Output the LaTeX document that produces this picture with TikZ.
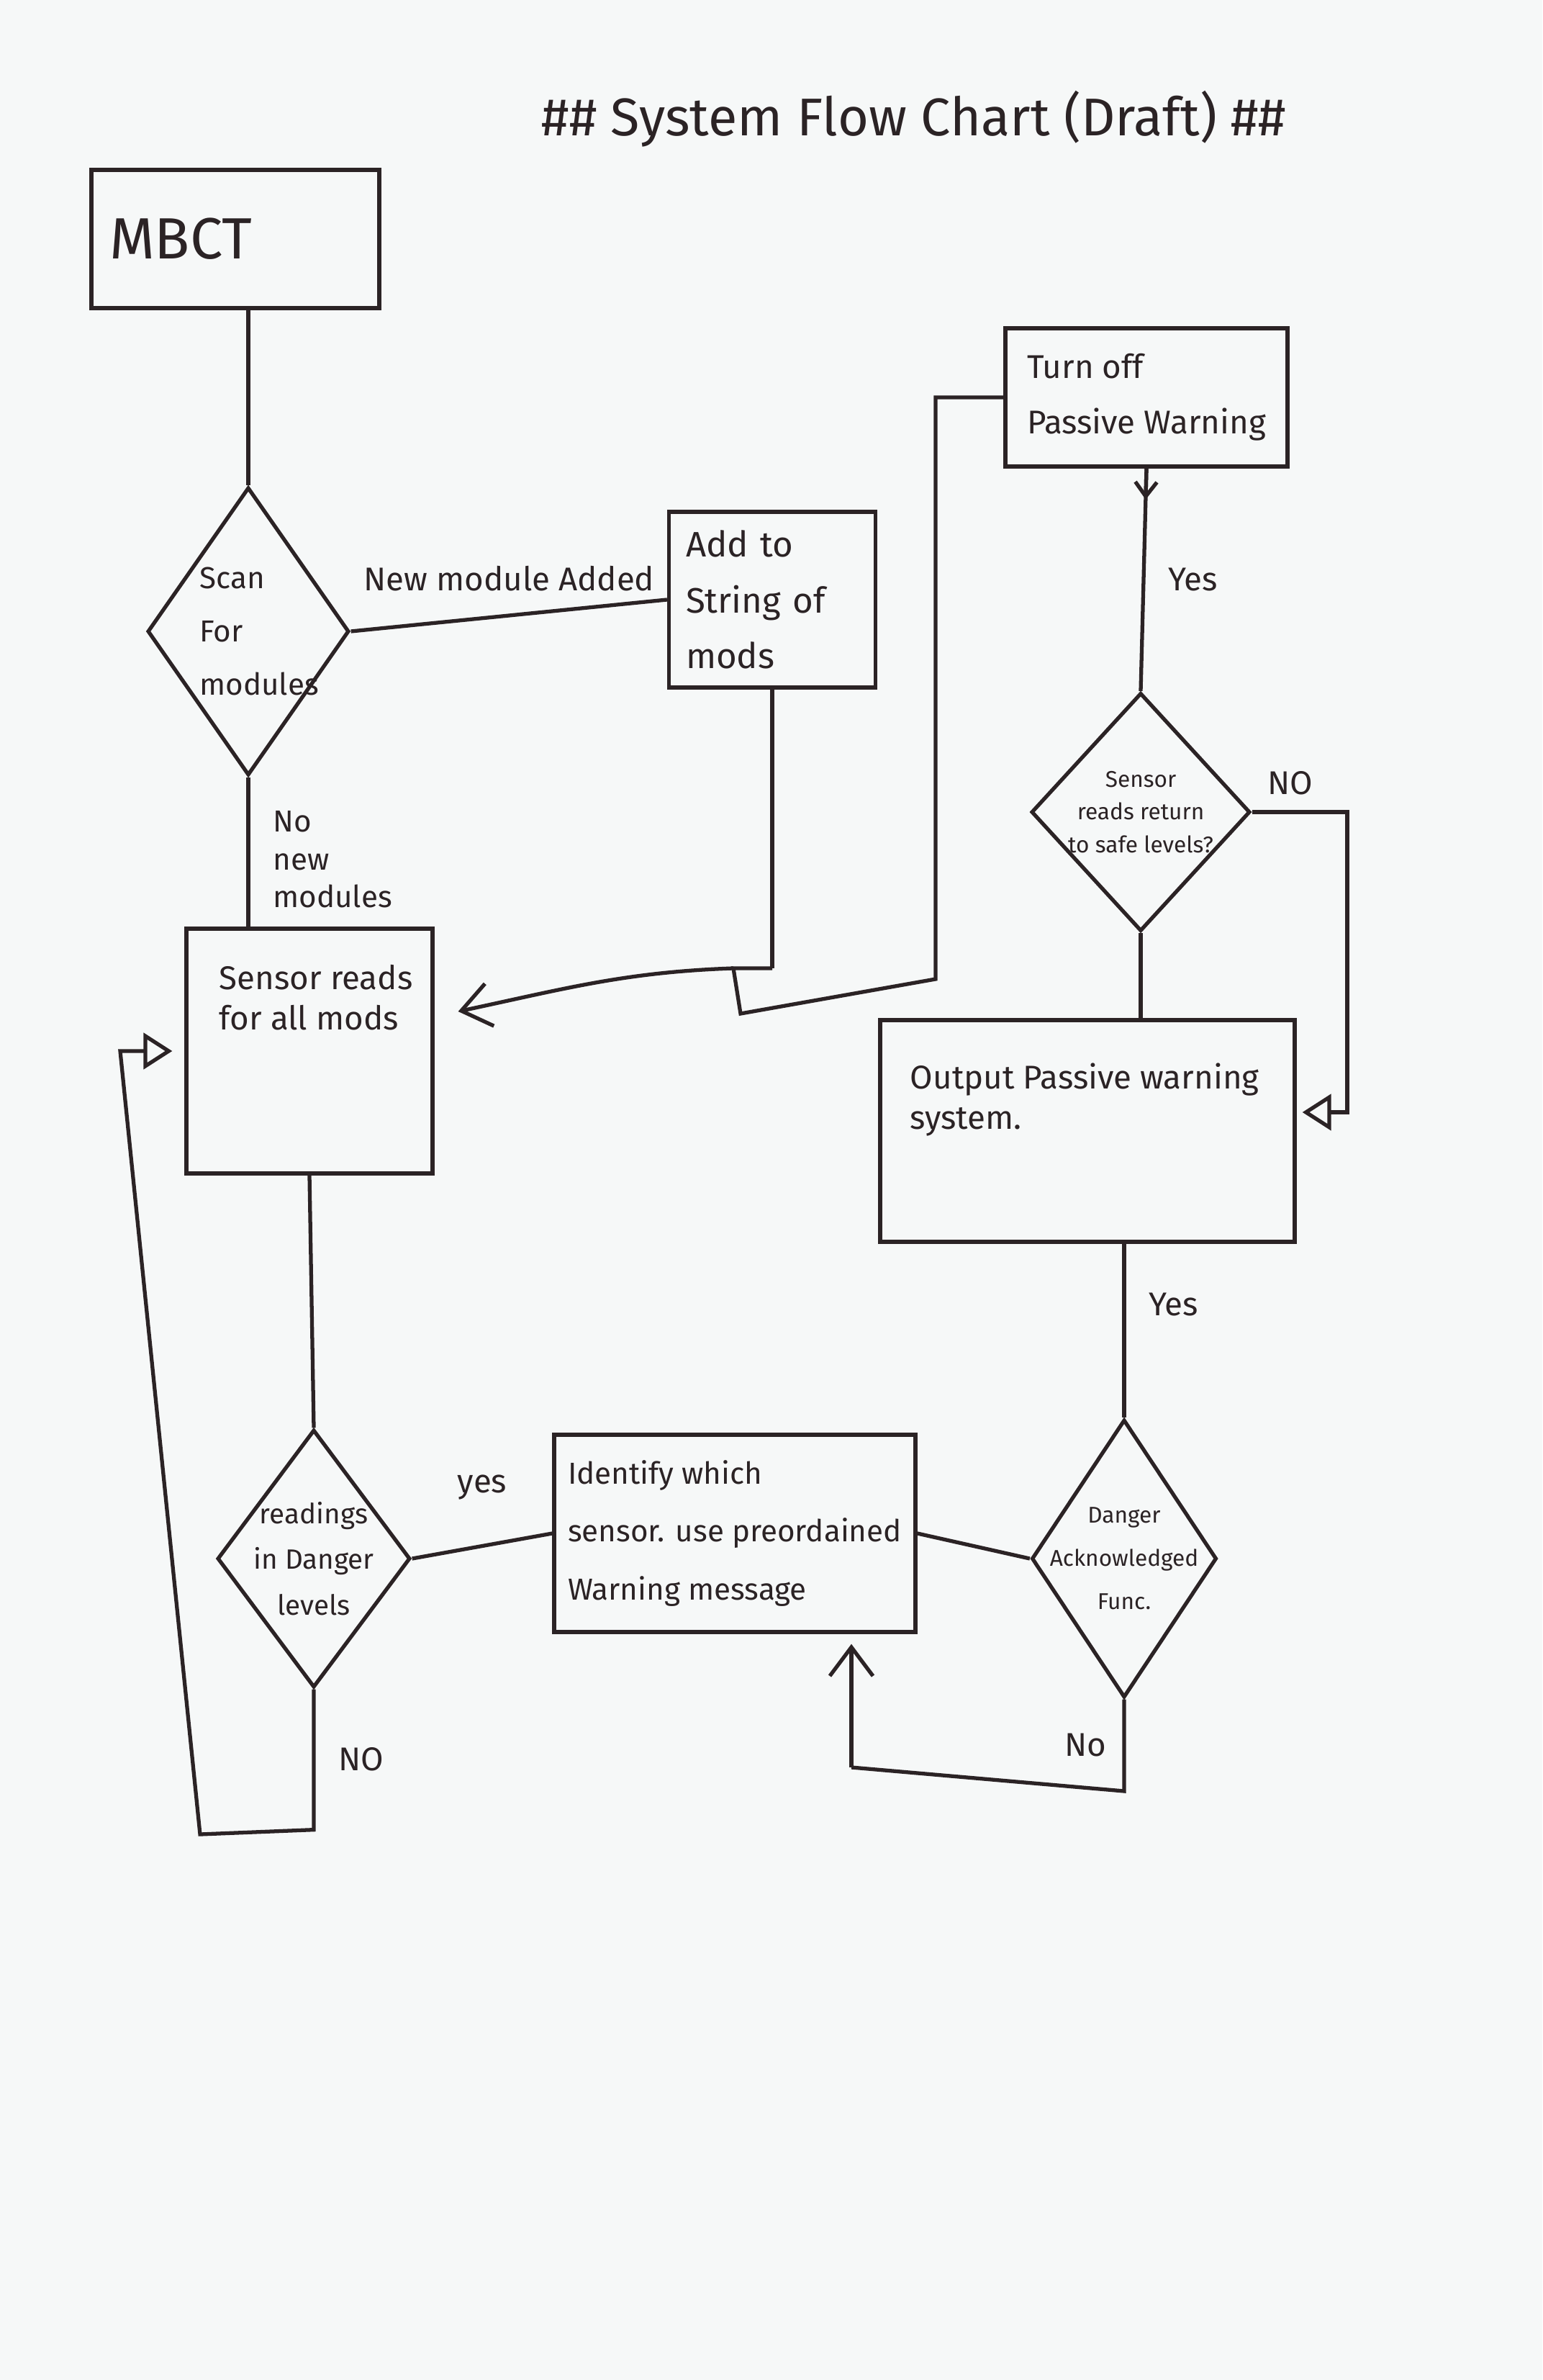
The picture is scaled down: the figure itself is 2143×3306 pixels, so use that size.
\documentclass[tikz,border=0pt]{standalone}
\usepackage{fontspec}
\setmainfont{Fira Sans}
\usepackage{xcolor}
\usepackage{tikz}
\usetikzlibrary{shapes.geometric, arrows.meta, positioning, calc}
\definecolor{board}{HTML}{F6F8F8}
\definecolor{ink}{HTML}{2B2325}
\tikzstyle{line} = [draw=ink, line width=1.5pt]
\tikzstyle{vee} = [line, -{Straight Barb[length=4mm, width=6mm]}]
\tikzstyle{tick} = [line, -{Straight Barb[length=2mm, width=3mm]}]
\tikzstyle{hollow} = [line, -{Triangle[open, length=4mm, width=5mm]}]

\begin{document}
\begin{tikzpicture}[x=0.1mm, y=-0.1mm,
    every node/.style={text=ink, font=\fontsize{14}{22}\selectfont},
    process/.style={draw=ink, line width=1.5pt, rectangle, align=left},
    decision/.style={draw=ink, line width=1.5pt, diamond, inner sep=0pt},
    tag/.style={align=left, font=\fontsize{13}{16}\selectfont},
]
    % Board
    \fill[board] (0,0) rectangle (2143,3306);
    \useasboundingbox (0,0) rectangle (2143,3306);

    % Title
    \node[font=\fontsize{21}{25}\selectfont] (title) at (1270,165) {\#\# System Flow Chart (Draft) \#\#};

    % Left column
    \node[process, minimum width=40mm, minimum height=19.2mm, text width=35mm, inner sep=2.2mm,
          font=\fontsize{23}{28}\selectfont] (mbct) at (327,332) {MBCT};
    \node[decision, minimum width=28mm, minimum height=40mm,
          label={[align=left, xshift=1.5mm, font=\fontsize{12}{21}\selectfont]center:Scan\\For\\modules}] (scan) at (345,877) {};
    \node[process, minimum width=34.2mm, minimum height=34mm,
          label={[tag, anchor=north west, xshift=3.6mm, yshift=-4mm]north west:Sensor reads\\for all mods}] (sensor) at (430,1460) {};
    \node[decision, minimum width=26.8mm, minimum height=35.8mm,
          label={[align=center, font=\fontsize{11}{18}\selectfont]center:readings\\in Danger\\levels}] (readings) at (436,2165) {};

    % Middle
    \node[process, minimum width=28.7mm, minimum height=24.4mm, text width=24mm, inner sep=2.3mm] (add) at (1073,833) {Add to\\String of\\mods};
    \node[process, minimum width=50.2mm, minimum height=27.4mm,
          font=\fontsize{12}{23}\selectfont] (identify) at (1021,2130) {Identify which\\sensor. use preordained\\Warning message};

    % Right column
    \node[process, minimum width=39.2mm, minimum height=19.2mm,
          font=\fontsize{13}{22}\selectfont] (turnoff) at (1593,552) {Turn off\\Passive Warning};
    \node[decision, minimum width=30.4mm, minimum height=33.1mm,
          label={[align=center, font=\fontsize{9}{13}\selectfont]center:Sensor\\reads return\\to safe levels?}] (safe) at (1585,1128) {};
    \node[process, minimum width=57.6mm, minimum height=30.8mm,
          label={[tag, anchor=north west, xshift=3.2mm, yshift=-5mm]north west:Output Passive warning\\system.}] (output) at (1511,1571) {};
    \node[decision, minimum width=25.7mm, minimum height=38.6mm,
          label={[align=center, font=\fontsize{9}{17}\selectfont]center:Danger\\Acknowledged\\Func.}] (danger) at (1562,2165) {};

    % Connections
    \draw[line] (scan.north |- mbct.south) -- (scan.north);
    \draw[line] (scan.east) -- (add.west) node[midway, above=2mm, tag] (lbl-new) {New module Added};
    \draw[line] (scan.south) -- (scan.south |- sensor.north)
        node[pos=0.55, right=2mm, tag, font=\fontsize{12}{15}\selectfont] (lbl-nonew) {No\\new\\modules};

    \coordinate (join) at (1073,1345);
    \coordinate (bend1) at (1300,1360);
    \coordinate (bend2) at (1029,1408);
    \coordinate (bend3) at (1019,1345);
    \draw[line] (add.south) -- (join);
    \draw[line] (turnoff.west) -| (bend1) -- (bend2) -- (bend3) -- (join);
    \draw[vee] (bend3) to[out=182, in=12] ($(sensor.east)+(33,-55)$);

    \draw[line] (sensor.south) -- (readings.north);
    \draw[line] (readings.east) -- (identify.west) node[midway, above=5mm, tag] (lbl-yes1) {yes};
    \draw[line] (identify.east) -- (danger.west);

    % Danger not acknowledged
    \coordinate (back1) at (1562,2488);
    \coordinate (back2) at (1183,2455);
    \draw[line] (danger.south) -- node[left=1mm, tag] (lbl-no2) {No} (back1) -- (back2);
    \draw[vee, shorten >=1.4mm] (back2) -- (back2 |- identify.south);

    % Warning loop
    \draw[line] (danger.north |- output.south) -- (danger.north) node[pos=0.35, right=2mm, tag] (lbl-yes2) {Yes};
    \draw[line] (safe.south) -- (safe.south |- output.north);
    \coordinate (side) at (1872,1545);
    \draw[hollow, shorten >=0.8mm] (safe.east) -| node[pos=0.2, above=1mm, tag] (lbl-no3) {NO} (side) -- (side -| output.east);
    \draw[line] (safe.north) -- (turnoff.south) node[pos=0.5, right=2mm, tag] (lbl-yes3) {Yes};
    \draw[tick] (turnoff.south) -- ($(turnoff.south)!0.14!(safe.north)$);

    % Back to sensor reads
    \coordinate (low2) at (278,2548);
    \coordinate (low3) at (167,1460);
    \draw[hollow, shorten >=1.7mm] (readings.south) -- node[right=2mm, tag] (lbl-no1) {NO} ++(0,195)
        -- (low2) -- (low3) -- (low3 -| sensor.west);
\end{tikzpicture}
\end{document}
